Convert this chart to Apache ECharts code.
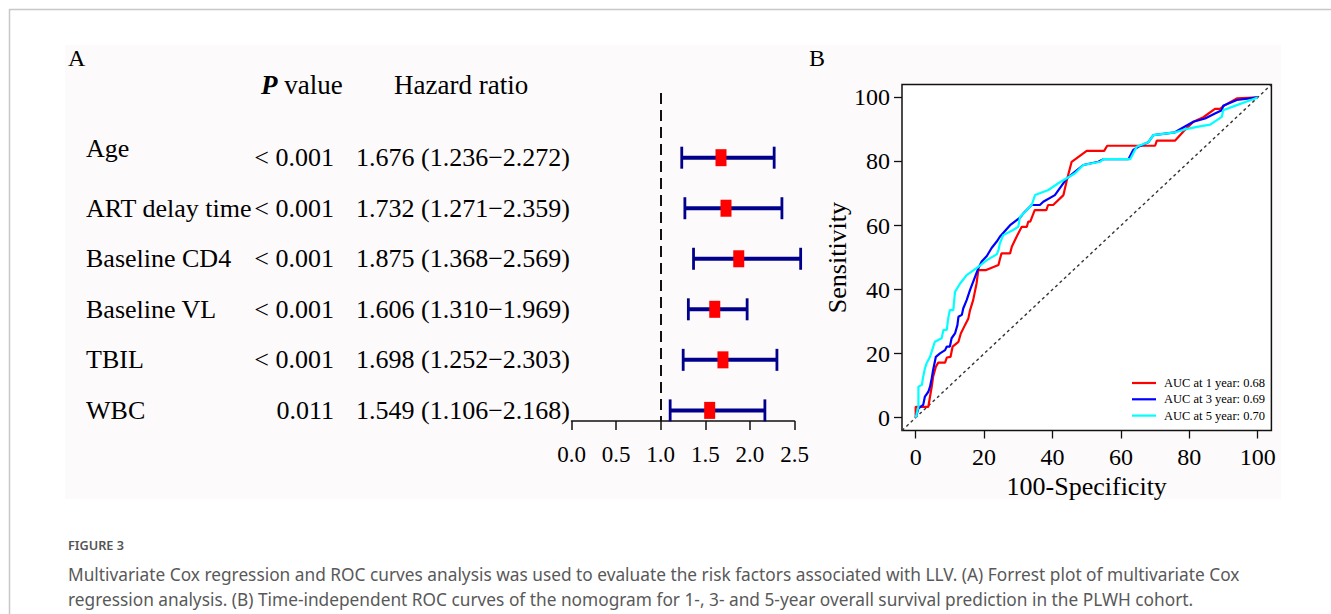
<!DOCTYPE html>
<html><head><meta charset="utf-8">
<script src="https://cdn.jsdelivr.net/npm/echarts@6/dist/echarts.min.js"></script>
<style>html,body{margin:0;padding:0;background:#fff;}#c{width:1331px;height:614px;}</style>
</head><body><div id="c"></div>
<script>
// ---------- data ----------
const variables = ['Age', 'ART delay time', 'Baseline CD4', 'Baseline VL', 'TBIL', 'WBC'];
const pValues = ['< 0.001', '< 0.001', '< 0.001', '< 0.001', '< 0.001', '0.011'];
const hazardRatio = [1.676, 1.732, 1.875, 1.606, 1.698, 1.549];
const ciLower = [1.236, 1.271, 1.368, 1.310, 1.252, 1.106];
const ciUpper = [2.272, 2.359, 2.569, 1.969, 2.303, 2.168];
const rocTicks = [0, 20, 40, 60, 80, 100];
const rocNames = ['AUC at 1 year: 0.68', 'AUC at 3 year: 0.69', 'AUC at 5 year: 0.70'];
const roc1 = [[0,0],[0,3.4],[3.7,3.4],[4.2,6.6],[4.7,9.7],[5.1,12.8],[5.9,15.9],[6.6,17.2],[8.6,17.2],[9.1,18.8],[10.2,19.0],[10.8,22.2],[12.5,23.7],[13.2,26.3],[14.4,28.9],[15.4,31.0],[15.9,33.6],[16.8,36.7],[17.8,41.9],[18.3,46.1],[20.6,46.1],[24.2,47.7],[24.6,49.4],[25.1,51.3],[27.6,51.3],[28.1,53.4],[29.5,56.5],[31.0,59.6],[32.5,59.6],[32.9,61.2],[33.5,61.2],[34.8,64.8],[38.2,64.8],[38.7,66.4],[40.2,66.4],[43.2,69.5],[44.2,74.2],[45.6,79.9],[50.0,83.3],[55.1,83.3],[56.0,84.9],[70.0,84.9],[70.5,86.5],[75.8,86.5],[78.2,89.3],[81.2,92.4],[84.1,93.8],[87.5,96.4],[89.0,96.4],[90.4,97.6],[93.9,99.7],[100,100]];
const roc3 = [[0,0],[0.8,2.9],[2.2,4.0],[2.7,6.6],[3.7,8.1],[4.2,9.7],[4.7,12.3],[5.1,14.9],[5.9,19.0],[7.1,20.1],[8.6,21.1],[9.1,22.2],[10.0,22.2],[10.5,24.8],[11.5,26.3],[12.2,28.9],[12.5,31.5],[13.5,32.1],[13.9,34.1],[14.9,36.7],[15.9,39.9],[16.8,42.4],[18.3,46.6],[19.3,48.8],[20.8,50.5],[22.2,53.0],[23.7,55.0],[24.6,56.5],[27.6,60.1],[30.5,62.5],[31.5,63.8],[33.9,66.4],[36.3,66.4],[37.3,67.4],[40.7,69.5],[44.2,74.7],[49.0,78.9],[53.4,79.9],[54.9,80.7],[62.2,80.7],[63.6,83.6],[65.1,84.6],[68.0,86.0],[69.5,88.2],[75.8,89.1],[78.2,90.6],[81.2,92.4],[84.6,93.4],[87.5,95.0],[89.5,96.0],[89.9,97.4],[93.9,99.2],[100,100]];
const roc5 = [[0,0],[0.8,3.4],[0.8,9.7],[1.8,10.2],[2.2,12.8],[2.7,15.4],[3.2,17.0],[4.2,19.0],[5.6,23.7],[7.6,24.8],[8.1,27.4],[9.1,27.4],[9.5,31.0],[10.0,33.6],[11.0,33.6],[11.5,39.3],[13.0,41.9],[14.9,44.5],[18.3,47.1],[20.8,49.2],[23.7,51.0],[24.2,52.3],[24.6,54.4],[25.6,57.0],[28.5,58.6],[30.0,59.6],[30.5,62.7],[32.0,64.3],[33.9,66.4],[34.9,69.5],[38.8,71.1],[41.7,73.2],[46.6,76.3],[49.0,78.9],[53.9,79.9],[54.9,80.7],[62.7,80.7],[64.6,84.6],[68.0,86.0],[69.5,88.2],[75.8,89.1],[78.7,90.0],[82.6,90.9],[86.1,91.5],[89.5,93.9],[89.9,96.0],[93.9,97.6],[100,100]];
const diagonal = [[-4,-4],[104,104]];

// ---------- layout / style ----------
const serif = "'Liberation Serif','Times New Roman',serif";
const navy = '#00008b';
const nameDy = [-9, 0, 0, 0, 0, 0];
const colName = 86, colP = 334, colHR = 356;

const forestData = variables.map((v, i) => [hazardRatio[i], i, ciLower[i], ciUpper[i]]);
const fmt = v => v.toFixed(3);

const chart = echarts.init(document.getElementById('c'), null, {renderer: 'svg'});
chart.setOption({
  animation: false,
  backgroundColor: '#fff',
  textStyle: {fontFamily: serif},
  grid: [
    {left: 571.5, top: 93, width: 223, height: 328, outerBoundsMode: 'none'},
    {left: 902, top: 84.6, width: 369.4, height: 345.9, show: true, borderColor: '#111', borderWidth: 1.5, backgroundColor: '#fff', outerBoundsMode: 'none'}
  ],
  xAxis: [
    {gridIndex: 0, type: 'value', min: 0, max: 2.5, interval: 0.5, position: 'bottom',
     axisLine: {show: true, onZero: false, lineStyle: {color: '#111', width: 1.5}},
     axisTick: {show: true, length: 9, lineStyle: {color: '#111', width: 1.5}},
     axisLabel: {fontFamily: serif, fontSize: 23, color: '#000', margin: 22, showMinLabel: true, showMaxLabel: true, formatter: v => v.toFixed(1)},
     splitLine: {show: false}},
    {gridIndex: 1, type: 'value', min: -4, max: 104, position: 'bottom',
     axisLine: {show: false, onZero: false},
     axisTick: {show: true, length: 8, customValues: rocTicks, lineStyle: {color: '#111', width: 1.3}},
     axisLabel: {customValues: rocTicks, fontFamily: serif, fontSize: 24, color: '#000', margin: 14},
     splitLine: {show: false},
     name: '100-Specificity', nameLocation: 'middle', nameGap: 40,
     nameTextStyle: {fontFamily: serif, fontSize: 26, color: '#000'}}
  ],
  yAxis: [
    {gridIndex: 0, type: 'value', inverse: true, min: -1.28, max: 5.21, show: false},
    {gridIndex: 1, type: 'value', min: -4, max: 104, position: 'left',
     axisLine: {show: false, onZero: false},
     axisTick: {show: true, length: 8, customValues: rocTicks, lineStyle: {color: '#111', width: 1.3}},
     axisLabel: {customValues: rocTicks, fontFamily: serif, fontSize: 24, color: '#000', margin: 12},
     splitLine: {show: false},
     name: 'Sensitivity', nameLocation: 'middle', nameGap: 50,
     nameTextStyle: {fontFamily: serif, fontSize: 26, color: '#000'}}
  ],
  legend: {
    data: rocNames.map(n => ({name: n, icon: 'path://M0,0H24V2.2H0Z'})),
    orient: 'vertical', left: 1127, top: 371,
    itemWidth: 24, itemHeight: 14, itemGap: 2.3, selectedMode: false,
    textStyle: {fontFamily: serif, fontSize: 12.5, color: '#000', padding: [0, 0, 0, 3], lineHeight: 14}
  },
  series: [
    {type: 'custom', xAxisIndex: 0, yAxisIndex: 0, data: forestData, encode: {x: [0, 2, 3], y: 1}, z: 5,
     renderItem: (params, api) => {
       const y = api.value(1);
       const pL = api.coord([api.value(2), y]);
       const pH = api.coord([api.value(3), y]);
       const pM = api.coord([api.value(0), y]);
       return {type: 'group', children: [
         {type: 'line', shape: {x1: pL[0], y1: pL[1], x2: pH[0], y2: pH[1]}, style: {stroke: navy, lineWidth: 4}},
         {type: 'line', shape: {x1: pL[0], y1: pL[1] - 11, x2: pL[0], y2: pL[1] + 11}, style: {stroke: navy, lineWidth: 2.8}},
         {type: 'line', shape: {x1: pH[0], y1: pH[1] - 11, x2: pH[0], y2: pH[1] + 11}, style: {stroke: navy, lineWidth: 2.8}},
         {type: 'rect', shape: {x: pM[0] - 5.5, y: pM[1] - 8.5, width: 11, height: 17}, style: {fill: '#ff0000'}}
       ]};
     },
     markLine: {silent: true, symbol: 'none', label: {show: false},
       lineStyle: {color: '#111', width: 2, type: [11, 6]}, data: [{xAxis: 1}]}
    },
    {type: 'custom', xAxisIndex: 0, yAxisIndex: 0, data: forestData, encode: {x: 0, y: 1}, clip: false,
     renderItem: (params, api) => {
       const i = params.dataIndex;
       const yy = api.coord([0, api.value(1)])[1];
       const font = '26px ' + serif;
       return {type: 'group', children: [
         {type: 'text', style: {text: variables[i], x: colName, y: yy + nameDy[i], font: font, fill: '#000', align: 'left', verticalAlign: 'middle'}},
         {type: 'text', style: {text: pValues[i], x: colP, y: yy, font: font, fill: '#000', align: 'right', verticalAlign: 'middle'}},
         {type: 'text', style: {text: fmt(hazardRatio[i]) + ' (' + fmt(ciLower[i]) + '\u2212' + fmt(ciUpper[i]) + ')', x: colHR, y: yy, font: font, fill: '#000', align: 'left', verticalAlign: 'middle'}}
       ]};
     }
    },
    {type: 'line', name: 'diag', xAxisIndex: 1, yAxisIndex: 1, data: diagonal, symbol: 'none',
     lineStyle: {color: '#333', width: 1.4, type: [3, 3]}, silent: true},
    {type: 'line', name: rocNames[0], xAxisIndex: 1, yAxisIndex: 1, data: roc1, symbol: 'none', color: '#ff0000', lineStyle: {width: 2.2}},
    {type: 'line', name: rocNames[1], xAxisIndex: 1, yAxisIndex: 1, data: roc3, symbol: 'none', color: '#0000ff', lineStyle: {width: 2.2}},
    {type: 'line', name: rocNames[2], xAxisIndex: 1, yAxisIndex: 1, data: roc5, symbol: 'none', color: '#00ffff', lineStyle: {width: 2.2}}
  ],
  graphic: {elements: [
    {type: 'rect', z: -100, silent: true, shape: {x: 65, y: 45, width: 1216, height: 454}, style: {fill: '#fdfafb'}},
    {type: 'line', shape: {x1: 9, y1: 9.5, x2: 1331, y2: 9.5}, style: {stroke: '#c8c8c8', lineWidth: 1.5}},
    {type: 'line', shape: {x1: 9.5, y1: 9, x2: 9.5, y2: 614}, style: {stroke: '#c8c8c8', lineWidth: 1.5}},
    {type: 'text', style: {text: 'A', x: 68, y: 58, font: '24px ' + serif, fill: '#000', verticalAlign: 'middle'}},
    {type: 'text', style: {text: 'B', x: 809, y: 58, font: '24px ' + serif, fill: '#000', verticalAlign: 'middle'}},
    {type: 'text', style: {text: '{p|P} value', x: 261, y: 85, font: '27px ' + serif, fill: '#000', verticalAlign: 'middle',
      rich: {p: {fontStyle: 'italic', fontWeight: 'bold', fontSize: 27, fontFamily: serif}}}},
    {type: 'text', style: {text: 'Hazard ratio', x: 394, y: 85, font: '27px ' + serif, fill: '#000', verticalAlign: 'middle'}},
    {type: 'text', style: {text: 'FIGURE 3', x: 68, y: 545, font: '600 12.7px "Noto Sans"', fill: '#555', verticalAlign: 'middle'}},
    {type: 'text', style: {text: 'Multivariate Cox regression and ROC curves analysis was used to evaluate the risk factors associated with LLV. (A) Forrest plot of multivariate Cox', x: 68, y: 574, font: '17.3px "Noto Sans"', fill: '#595959', verticalAlign: 'middle'}},
    {type: 'text', style: {text: 'regression analysis. (B) Time-independent ROC curves of the nomogram for 1-, 3- and 5-year overall survival prediction in the PLWH cohort.', x: 68, y: 599, font: '17.3px "Noto Sans"', fill: '#595959', verticalAlign: 'middle'}}
  ]}
});
</script></body></html>
